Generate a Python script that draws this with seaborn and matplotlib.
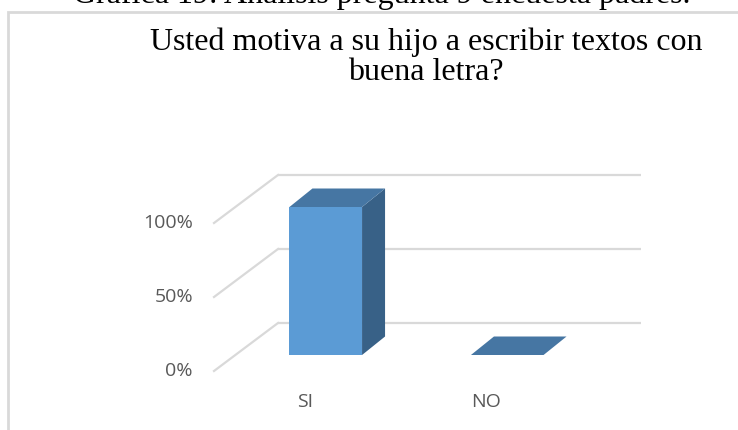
import matplotlib
matplotlib.use("Agg")
import matplotlib.pyplot as plt
from matplotlib.patches import Polygon, Rectangle
import seaborn as sns
import pandas as pd

# data
categories = ["SI", "NO"]
values = [1.0, 0.0]
ticks = [0.0, 0.5, 1.0]
tick_labels = ["0%", "50%", "100%"]
caption = "Gráfica 19: Análisis pregunta 9 encuesta padres."
title_lines = ["Usted motiva a su hijo a escribir textos con", "buena letra?"]

front = "#5b9bd5"
top = "#4676a3"
side = "#386187"
grid = "#d9d9d9"
txt = "#595959"

W, H = 738, 430
fig = plt.figure(figsize=(W / 100, H / 100), dpi=100)
# axes = front plane of the bars
ax = fig.add_axes([235 / W, (H - 355) / H, 363 / W, 148 / H])

df = pd.DataFrame({"cat": categories, "val": values})
sns.barplot(data=df, x="cat", y="val", ax=ax, width=0.4, color=front,
            saturation=1, linewidth=0, zorder=3)
ax.set_xlim(-0.5, 1.5)
ax.set_ylim(0, 1)
ax.axis("off")

ux = 363 / 2.0  # px per category
uy = 148.0      # px per 100%


def off(px, py):
    return px / ux, py / uy


bdx, bdy = off(43, 32)     # back wall
fdx, fdy = off(-21, -16)   # front floor edge
ddx, ddy = off(23, 18.5)   # bar depth
x0, x1 = ax.get_xlim()

for t, lab in zip(ticks, tick_labels):
    ax.plot([x0 + bdx, x1 + bdx], [t + bdy, t + bdy], color=grid, lw=1.6,
            clip_on=False, zorder=0, solid_capstyle="butt")
    ax.plot([x0 + fdx, x0 + bdx], [t + fdy, t + bdy], color=grid, lw=1.6,
            clip_on=False, zorder=0)
    ax.text(x0 + fdx - off(21, 0)[0], t + fdy, lab, ha="right", va="center",
            color=txt, fontsize=14, family="Open Sans")

for p in ax.patches:
    x, w, h = p.get_x(), p.get_width(), p.get_height()
    ax.add_patch(Polygon([(x + w, 0), (x + w + ddx, ddy), (x + w + ddx, h + ddy), (x + w, h)],
                         closed=True, fc=side, ec="none", clip_on=False, zorder=4))
    ax.add_patch(Polygon([(x, h), (x + w, h), (x + w + ddx, h + ddy), (x + ddx, h + ddy)],
                         closed=True, fc=top, ec="none", clip_on=False, zorder=5))

for i, c in enumerate(categories):
    ax.text(i + fdx, fdy - 31 / uy, c, ha="center", va="center",
            color=txt, fontsize=14, family="Open Sans")

# chart frame (only left and top edges visible)
fig.patches.append(Rectangle((8 / W, -0.2), 1.2, 1.2 - 12 / H, transform=fig.transFigure,
                             fill=False, ec=grid, lw=2))

fig.text(382 / W, 1 - 3 / H, caption, ha="center", va="baseline",
         fontsize=23, family="Liberation Serif", color="black")
for k, line in enumerate(title_lines):
    fig.text(426 / W, 1 - (50 + 30 * k) / H, line, ha="center", va="baseline",
             fontsize=23, family="Liberation Serif", color="black")

fig.savefig("out.png", dpi=100)
